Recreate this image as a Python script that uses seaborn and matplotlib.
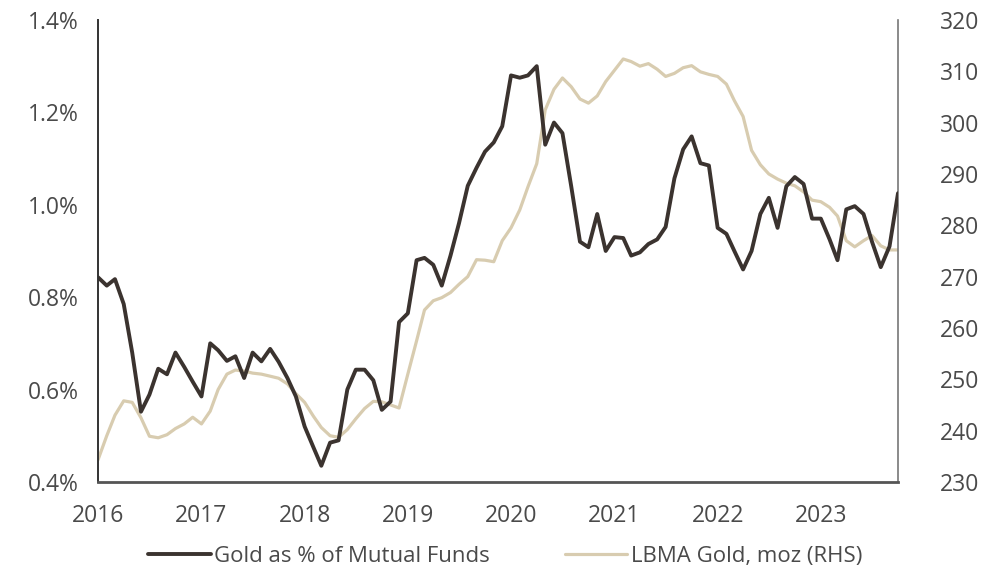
import matplotlib
matplotlib.use("Agg")
import numpy as np
import pandas as pd
import matplotlib.pyplot as plt
import matplotlib.dates as mdates
from matplotlib.ticker import FuncFormatter, MultipleLocator
import seaborn as sns

# monthly readings, Jan 2016 .. Oct 2023
start_month = "2016-01-01"
gold_pct_mutual_funds = [
    0.843, 0.825, 0.839, 0.785, 0.680, 0.552, 0.589, 0.645, 0.633, 0.680,
    0.649, 0.617, 0.585, 0.700, 0.685, 0.662, 0.672, 0.625, 0.680, 0.661,
    0.688, 0.660, 0.625, 0.585, 0.520, 0.475, 0.435, 0.485, 0.490, 0.600,
    0.643, 0.643, 0.620, 0.556, 0.574, 0.746, 0.765, 0.880, 0.885, 0.870,
    0.825, 0.890, 0.960, 1.041, 1.080, 1.115, 1.135, 1.170, 1.280, 1.275,
    1.280, 1.300, 1.130, 1.178, 1.155, 1.040, 0.920, 0.908, 0.980, 0.900,
    0.930, 0.928, 0.890, 0.897, 0.915, 0.925, 0.952, 1.057, 1.120, 1.148,
    1.090, 1.085, 0.950, 0.937, 0.900, 0.860, 0.900, 0.980, 1.015, 0.950,
    1.040, 1.060, 1.045, 0.970, 0.970, 0.925, 0.880, 0.990, 0.997, 0.980,
    0.920, 0.865, 0.910, 1.025,
]
lbma_gold_moz = [
    234.3, 239.0, 243.0, 245.8, 245.5, 242.5, 238.9, 238.6, 239.2, 240.4,
    241.3, 242.6, 241.3, 243.8, 248.0, 251.0, 251.8, 251.6, 251.2, 251.0,
    250.6, 250.2, 249.1, 247.2, 245.5, 242.8, 240.6, 239.0, 238.7, 240.2,
    242.3, 244.3, 245.7, 245.6, 245.0, 244.4, 251.0, 257.5, 263.5, 265.3,
    265.9, 266.9, 268.5, 270.0, 273.3, 273.2, 272.9, 277.0, 279.5, 283.0,
    287.5, 292.0, 302.5, 306.5, 308.7, 307.0, 304.6, 303.8, 305.2, 308.0,
    310.2, 312.4, 311.9, 311.0, 311.5, 310.4, 309.0, 309.6, 310.7, 311.1,
    309.9, 309.4, 309.0, 307.5, 304.3, 301.2, 294.6, 291.8, 290.0, 289.0,
    288.2, 287.7, 286.5, 284.9, 284.6, 283.5, 281.8, 277.0, 275.8, 277.0,
    278.0, 276.0, 275.2, 275.2,
]
left_label = "Gold as % of Mutual Funds"
right_label = "LBMA Gold, moz (RHS)"

dates = pd.date_range(start_month, periods=len(gold_pct_mutual_funds), freq="MS")
df = pd.DataFrame({"date": dates, "pct": gold_pct_mutual_funds, "moz": lbma_gold_moz})

sns.set_style("white")
plt.rcParams["font.family"] = ["Open Sans", "DejaVu Sans"]

DARK = "#3b332f"
LIGHT = "#d8ccb0"
TXT = "#4a4a4a"

fig = plt.figure(figsize=(9.81, 5.71), dpi=100)
ax = fig.add_axes([0.0999, 0.156, 0.8155, 0.809])
ax2 = ax.twinx()

sns.lineplot(data=df, x="date", y="moz", ax=ax2, color=LIGHT, linewidth=2.3)
sns.lineplot(data=df, x="date", y="pct", ax=ax, color=DARK, linewidth=2.8)
ax.set_zorder(ax2.get_zorder() + 1)
ax.patch.set_visible(False)

ax.set_xlim(dates[0], dates[-1])
ax.set_ylim(0.4, 1.4)
ax2.set_ylim(230, 320)
ax.yaxis.set_major_locator(MultipleLocator(0.2))
ax.yaxis.set_major_formatter(FuncFormatter(lambda v, p: f"{v:.1f}%"))
ax2.yaxis.set_major_locator(MultipleLocator(10))
ax.xaxis.set_major_locator(mdates.YearLocator())
ax.xaxis.set_major_formatter(mdates.DateFormatter("%Y"))

for a in (ax, ax2):
    a.set_xlabel("")
    a.set_ylabel("")
    a.tick_params(length=0, labelsize=16.5, colors=TXT)
    a.spines["top"].set_visible(False)
ax.tick_params(axis="y", pad=14)
ax.tick_params(axis="x", pad=16)
ax2.tick_params(axis="y", pad=30)
ax.spines["left"].set_color("#333333")
ax.spines["left"].set_linewidth(1.4)
ax.spines["bottom"].set_color("#555555")
ax.spines["bottom"].set_linewidth(2.0)
ax.spines["right"].set_visible(False)
ax2.spines["left"].set_visible(False)
ax2.spines["bottom"].set_visible(False)
ax2.spines["right"].set_color("#777777")
ax2.spines["right"].set_linewidth(1.2)

handles = [
    plt.Line2D([], [], color=DARK, linewidth=2.8),
    plt.Line2D([], [], color=LIGHT, linewidth=2.3),
]
fig.legend(handles, [left_label, right_label], loc="center",
           bbox_to_anchor=(0.515, 0.026), ncol=2, frameon=False,
           fontsize=16, handlelength=2.8, handletextpad=0.15,
           columnspacing=3.4, labelcolor=TXT)

fig.savefig("out.png", dpi=100)
